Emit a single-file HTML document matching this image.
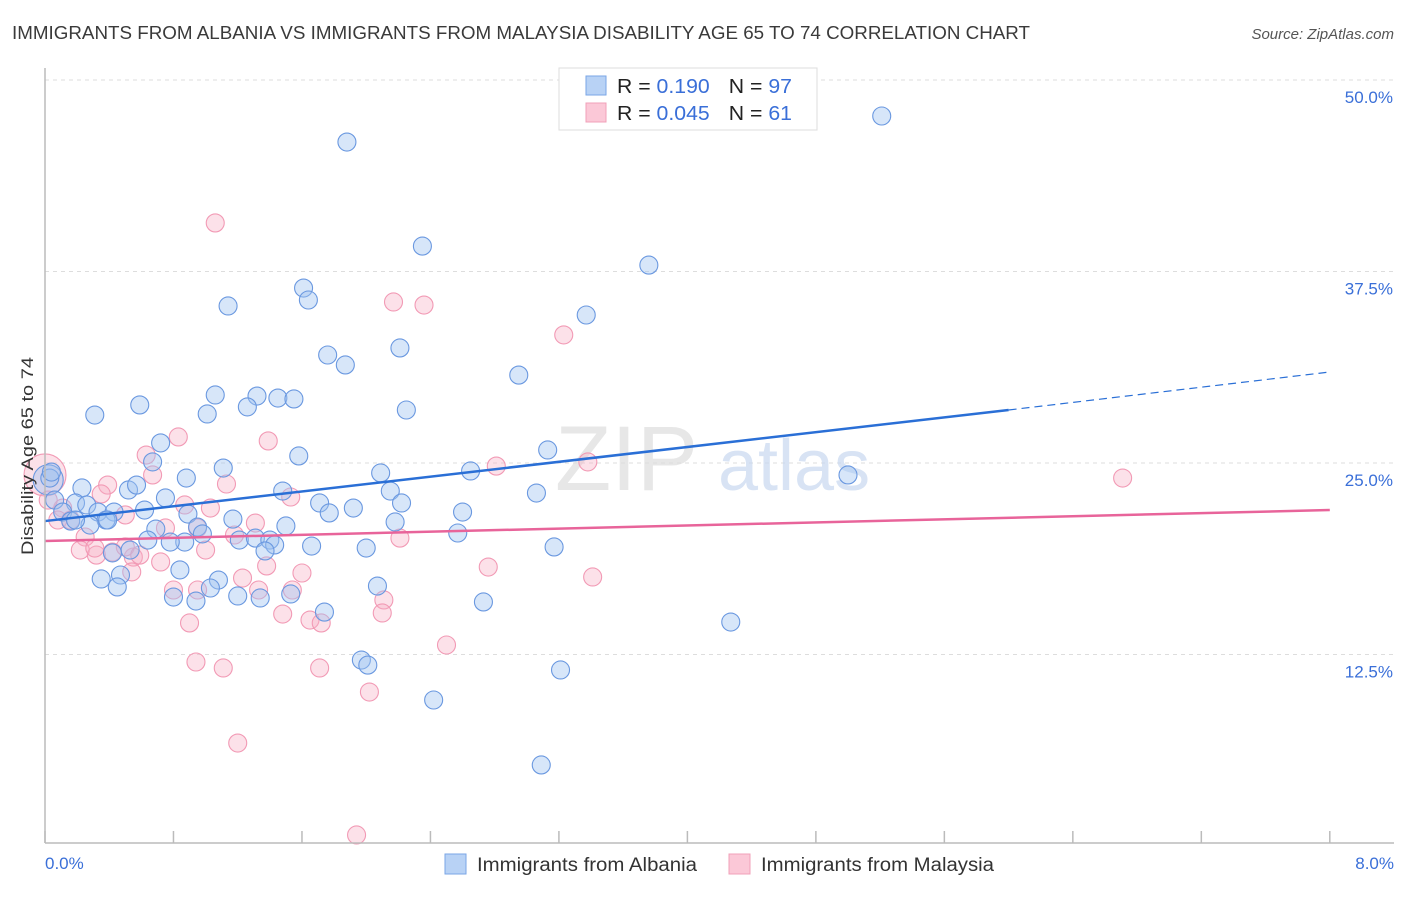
<!DOCTYPE html>
<html><head><meta charset="utf-8"><style>
body{margin:0;background:#fff;font-family:"Liberation Sans",sans-serif}
svg text{font-family:"Liberation Sans",sans-serif}
</style></head><body>
<svg id="chart" width="1406" height="892" xmlns="http://www.w3.org/2000/svg">
<text x="12" y="39" font-size="18" fill="#3a3a3a" textLength="1018" lengthAdjust="spacingAndGlyphs">IMMIGRANTS FROM ALBANIA VS IMMIGRANTS FROM MALAYSIA DISABILITY AGE 65 TO 74 CORRELATION CHART</text>
<text x="1394" y="39" font-size="15" fill="#555" text-anchor="end" font-style="italic">Source: ZipAtlas.com</text>
<g id="grid"></g>
<text x="555" y="490" font-size="92" fill="#ddd" font-family="Liberation Serif" opacity="0.7">ZIP</text>
<text x="718" y="490" font-size="72" fill="#c8d8f0" opacity="0.7">atlas</text>
<g id="pts"></g>
<g id="lines"></g>
<line x1="45" y1="68" x2="45" y2="843" stroke="#bbb" stroke-width="1.5"/>
<line x1="45" y1="843" x2="1394" y2="843" stroke="#bbb" stroke-width="1.5"/>
<g id="ticks"></g>
<text transform="translate(33,456) rotate(-90)" font-size="17" fill="#333" text-anchor="middle" textLength="198" lengthAdjust="spacingAndGlyphs">Disability Age 65 to 74</text>
<text x="45" y="869" font-size="17" fill="#3a6fd8">0.0%</text>
<text x="1394" y="869" font-size="17" fill="#3a6fd8" text-anchor="end">8.0%</text>
<g>
<rect x="559" y="68" width="258" height="62" fill="#fff" stroke="#ddd"/>
<rect x="586" y="76" width="20" height="19" fill="#b8d2f5" stroke="#7aa6e6"/>
<rect x="586" y="103" width="20" height="19" fill="#fbc8d7" stroke="#f0a0b8"/>
<text x="617" y="93" font-size="20" fill="#222" textLength="175" lengthAdjust="spacingAndGlyphs">R = <tspan fill="#3a6fd8"> 0.190</tspan><tspan dx="18">N = </tspan><tspan fill="#3a6fd8">97</tspan></text>
<text x="617" y="120" font-size="20" fill="#222" textLength="175" lengthAdjust="spacingAndGlyphs">R = <tspan fill="#3a6fd8">0.045</tspan><tspan dx="18">N = </tspan><tspan fill="#3a6fd8"> 61</tspan></text>
</g>
<g>
<rect x="445" y="854" width="21" height="20" fill="#b8d2f5" stroke="#7aa6e6"/>
<text x="477" y="871" font-size="19" fill="#333" textLength="220" lengthAdjust="spacingAndGlyphs">Immigrants from Albania</text>
<rect x="729" y="854" width="21" height="20" fill="#fbc8d7" stroke="#f0a0b8"/>
<text x="761" y="871" font-size="19" fill="#333" textLength="233" lengthAdjust="spacingAndGlyphs">Immigrants from Malaysia</text>
</g>
</svg>
<script>
const blueX=[0.02,5.21,1.88,2.35,3.76,1.61,1.64,1.14,3.37,2.21,1.76,1.87,2.95,0.59,0.31,1.06,1.32,1.45,1.55,1.26,1.01,2.25,0.72,3.13,0.67,1.58,1.11,0.88,2.09,2.65,5.00,0.23,0.52,0.57,0.75,2.15,3.06,0.06,0.19,0.26,1.48,1.71,2.22,1.92,0.11,0.33,0.43,0.62,0.89,1.77,2.60,0.16,0.38,1.17,2.18,1.50,0.28,0.69,0.95,0.98,2.57,0.64,1.21,1.31,1.40,0.87,0.78,1.66,2.00,1.43,1.37,3.17,0.42,0.53,0.84,0.35,0.47,1.08,0.45,1.03,2.07,0.80,1.20,1.34,0.94,1.53,1.74,2.73,4.27,1.97,2.01,3.21,2.42,3.09,0.03,0.04,0.39,0.19];
const blueY=[23.9,47.65,45.95,39.16,37.92,36.42,35.64,35.25,34.66,32.51,32.05,31.40,30.74,28.79,28.13,29.44,29.37,29.24,29.18,28.66,28.20,28.46,26.31,25.85,25.07,25.46,24.67,24.02,24.35,24.48,24.22,23.37,23.24,23.56,22.72,23.17,23.04,22.58,22.39,22.26,23.17,22.39,22.39,22.06,21.80,21.80,21.80,21.93,21.67,21.74,21.80,21.21,21.28,21.34,21.15,20.89,20.95,20.69,20.82,20.37,20.43,19.97,19.97,20.10,19.97,19.84,19.84,19.58,19.45,19.65,19.26,19.52,19.13,19.32,18.02,17.43,17.69,17.36,16.91,16.84,16.97,16.25,16.32,16.19,15.99,16.45,15.27,15.93,14.62,12.14,11.81,11.49,9.53,5.29,24.02,24.41,21.28,21.28];
const pinkX=[0.00,1.06,2.17,2.36,3.23,0.83,1.39,0.63,0.67,1.13,2.81,3.38,6.71,0.39,0.35,0.87,1.53,0.11,1.03,0.50,0.75,0.95,0.08,0.25,1.31,2.21,0.22,0.32,0.42,0.55,0.31,1.00,1.38,1.23,1.60,0.54,0.72,0.80,0.95,1.54,2.11,2.76,3.41,1.48,0.90,1.65,1.72,2.10,2.50,0.94,1.11,1.71,2.02,1.20,1.94,0.02,0.16,0.50,1.18,1.33,0.59];
const pinkY=[24.22,40.67,35.51,35.31,33.36,26.70,26.44,25.52,24.22,23.63,24.80,25.07,24.02,23.56,22.98,22.26,22.78,22.06,22.06,21.61,20.76,20.76,21.28,20.17,21.08,20.10,19.32,18.99,19.19,18.86,19.45,19.32,18.28,17.49,17.82,17.89,18.54,16.71,16.71,16.71,16.06,18.21,17.56,15.14,14.56,14.75,14.56,15.21,13.12,12.01,11.62,11.62,10.05,6.72,0.72,22.58,21.28,19.52,20.30,16.71,18.99];
const yTicks=[12.5,25.0,37.5,50.0];
const xTickVals=[0,0.8,1.6,2.4,3.2,4.0,4.8,5.6,6.4,7.2,8.0];
const blueTrend=[[0,21.21],[6.0,28.46],[8,30.94]];
const pinkTrend=[[0,19.91],[8,21.93]];
const X=v=>45+v*160.6, Y=v=>846-v*15.32;
const NS="http://www.w3.org/2000/svg";
function mk(t,a,p){const e=document.createElementNS(NS,t);for(const k in a)e.setAttribute(k,a[k]);p.appendChild(e);return e;}
const grid=document.getElementById('grid'),ticks=document.getElementById('ticks'),pts=document.getElementById('pts'),lines=document.getElementById('lines');
yTicks.forEach(v=>{const l=mk('line',{x1:45,x2:1394,y1:Y(v),y2:Y(v),stroke:'#ddd','stroke-dasharray':'4,4'},grid);


const t=mk('text',{x:1393,y:Y(v)+23,'font-size':17,fill:'#3a6fd8','text-anchor':'end'},ticks);t.textContent=v.toFixed(1)+'%';

});
xTickVals.forEach(v=>{const l=mk('line',{x1:X(v),x2:X(v),y1:843,y2:831,stroke:'#bbb','stroke-width':1.5},ticks);

});
pinkX.forEach((x,i)=>{const c=mk('circle',{cx:X(x),cy:Y(pinkY[i]),r:i===0?21:9,fill:'rgba(248,175,198,0.38)',stroke:'#f29ab5','stroke-width':1.1},pts);

});
blueX.forEach((x,i)=>{const c=mk('circle',{cx:X(x),cy:Y(blueY[i]),r:i===0?15:9,fill:'rgba(160,195,240,0.42)',stroke:'#6a98e0','stroke-width':1.1},pts);

});
let b=mk('line',{x1:X(blueTrend[0][0]),y1:Y(blueTrend[0][1]),x2:X(blueTrend[1][0]),y2:Y(blueTrend[1][1]),stroke:'#2a6fd6','stroke-width':2.5},lines);


let bd=mk('line',{x1:X(blueTrend[1][0]),y1:Y(blueTrend[1][1]),x2:X(blueTrend[2][0]),y2:Y(blueTrend[2][1]),stroke:'#2a6fd6','stroke-width':1.2,'stroke-dasharray':'8,5'},lines);


let p=mk('line',{x1:X(pinkTrend[0][0]),y1:Y(pinkTrend[0][1]),x2:X(pinkTrend[1][0]),y2:Y(pinkTrend[1][1]),stroke:'#e8649a','stroke-width':2.5},lines);


</script>
</body></html>
